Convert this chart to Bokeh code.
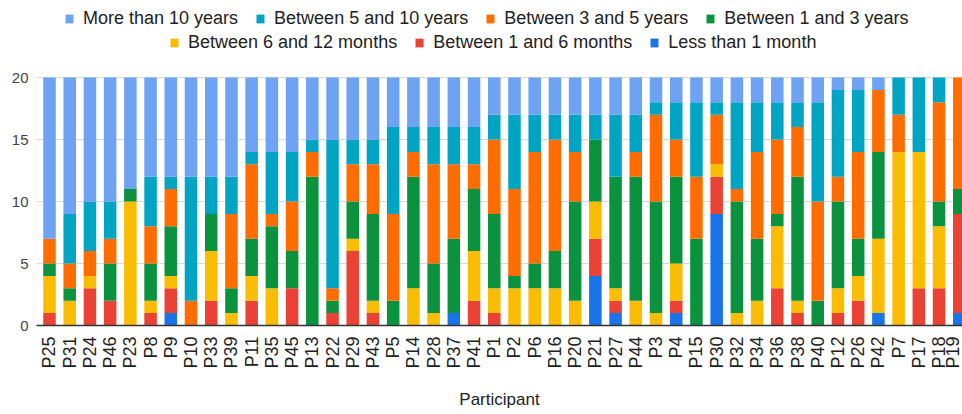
from bokeh.plotting import figure
from bokeh.models import Legend, LegendItem, Range1d, FixedTicker, ColumnDataSource
from bokeh.embed import file_html
from bokeh.resources import INLINE
import math

participants = ["P25", "P31", "P24", "P46", "P23", "P8", "P9", "P10", "P33", "P39",
                "P11", "P35", "P45", "P13", "P22", "P29", "P43", "P5", "P14", "P28",
                "P37", "P41", "P1", "P2", "P6", "P16", "P20", "P21", "P27", "P44",
                "P3", "P4", "P15", "P30", "P32", "P34", "P36", "P38", "P40", "P12",
                "P26", "P42", "P7", "P17", "P18", "P19"]

less_1m = [0,0,0,0,0,0,1,0,0,0, 0,0,0,0,0,0,0,0,0,0, 1,0,0,0,0,0,0,4,1,0, 0,1,0,9,0,0,0,0,0,0, 0,1,0,0,0,1]
m1_6 = [1,0,3,2,0,1,2,0,2,0, 2,0,3,0,1,6,1,0,0,0, 0,2,1,0,0,0,0,3,1,0, 0,1,0,3,0,0,3,1,0,1, 2,0,0,3,3,8]
m6_12 = [3,2,1,0,10,1,1,0,4,1, 2,3,0,0,0,1,1,0,3,1, 0,4,2,3,3,3,2,3,1,2, 1,3,0,1,1,2,5,1,0,2, 2,6,14,11,5,0]
y1_3 = [1,1,0,3,1,3,4,0,3,2, 3,5,3,12,1,3,7,2,9,4, 6,5,6,1,2,3,8,5,9,10, 9,7,7,0,9,5,1,10,2,7, 3,7,0,0,2,2]
y3_5 = [2,2,2,2,0,3,3,2,0,6, 6,1,4,2,1,3,4,7,2,8, 6,2,6,7,9,9,4,0,0,2, 7,3,5,4,1,7,6,4,8,2, 7,5,3,0,8,9]
y5_10 = [0,4,4,3,0,4,1,10,3,3, 1,5,4,1,12,2,2,7,2,3, 3,3,2,6,3,2,3,2,5,3, 1,3,6,1,7,4,3,2,8,7, 5,0,3,6,2,0]
gt10 = [13,11,10,10,9,8,8,8,8,8, 6,6,6,5,5,5,5,4,4,4, 4,4,3,3,3,3,3,3,3,3, 2,2,2,2,2,2,2,2,2,1, 1,1,0,0,0,0]

series_keys = ["less_1m", "m1_6", "m6_12", "y1_3", "y3_5", "y5_10", "gt10"]
series_labels = ["Less than 1 month", "Between 1 and 6 months", "Between 6 and 12 months",
                 "Between 1 and 3 years", "Between 3 and 5 years", "Between 5 and 10 years",
                 "More than 10 years"]
colors = ["#1a73e8", "#ea4335", "#fbbc04", "#0a923f", "#ff6d01", "#00a5c3", "#6ea3f3"]

y_ticks = [0, 5, 10, 15, 20]

x_idx = list(range(len(participants)))
source = ColumnDataSource(dict(x=x_idx, less_1m=less_1m, m1_6=m1_6, m6_12=m6_12,
                               y1_3=y1_3, y3_5=y3_5, y5_10=y5_10, gt10=gt10))

FONT = "Liberation Sans"

W, H = 962, 414
FRAME_H = 325          # frame spans from top of figure to the baseline
PLOT_TOP = 77          # pixel row of value 20
y_max = max(y_ticks) * FRAME_H / (FRAME_H - PLOT_TOP)

p = figure(width=W, height=H, output_backend="svg", toolbar_location=None,
           x_range=Range1d(-0.643, 45.16), y_range=Range1d(0, y_max),
           min_border_left=36, min_border_right=0, min_border_top=0,
           min_border_bottom=H - FRAME_H)
p.outline_line_color = None
p.background_fill_color = "white"
p.border_fill_color = "white"

rs = p.vbar_stack(series_keys, x="x", width=0.62, source=source, color=colors,
                  line_color=None)

# axes
p.xaxis.ticker = FixedTicker(ticks=x_idx)
p.xaxis.major_label_overrides = {i: lab for i, lab in enumerate(participants)}
p.xaxis.major_label_orientation = math.pi / 2
p.xaxis.major_label_text_font = FONT
p.xaxis.major_label_text_font_size = "18px"
p.xaxis.major_label_text_color = "#222222"
p.xaxis.major_label_standoff = 5
p.xaxis.major_tick_line_color = None
p.xaxis.minor_tick_line_color = None
p.xaxis.axis_line_color = "#333333"
p.xaxis.axis_line_width = 1.5
p.xaxis.axis_label = "Participant"
p.xaxis.axis_label_text_font = FONT
p.xaxis.axis_label_text_font_style = "normal"
p.xaxis.axis_label_text_font_size = "17px"
p.xaxis.axis_label_text_color = "#222222"
p.xaxis.axis_label_standoff = 18

p.yaxis.ticker = FixedTicker(ticks=y_ticks)
p.yaxis.major_label_text_font = FONT
p.yaxis.major_label_text_font_size = "15px"
p.yaxis.major_label_text_color = "#444444"
p.yaxis.major_label_standoff = 2
p.yaxis.axis_line_color = None
p.yaxis.major_tick_line_color = None
p.yaxis.minor_tick_line_color = None

p.xgrid.grid_line_color = None
p.ygrid.ticker = FixedTicker(ticks=y_ticks)
p.ygrid.grid_line_color = "#d9d9d9"

row1_order = [6, 5, 4, 3]
row2_order = [2, 1, 0]

def make_legend(order, loc):
    leg = Legend(items=[LegendItem(label=series_labels[i], renderers=[rs[i]]) for i in order],
                 orientation="horizontal", location=loc)
    leg.label_text_font = FONT
    leg.label_text_font_size = "18px"
    leg.label_text_color = "#222222"
    leg.glyph_width = 10
    leg.glyph_height = 11
    leg.label_standoff = 9
    leg.spacing = 17
    leg.padding = 0
    leg.margin = 0
    leg.border_line_color = None
    leg.background_fill_alpha = 0
    leg.label_height = 20
    return leg

leg1 = make_legend(row1_order, (28, 296))
leg2 = make_legend(row2_order, (133, 272))
p.add_layout(leg1, "center")
p.add_layout(leg2, "center")

open("out.html", "w").write(file_html(p, INLINE))
